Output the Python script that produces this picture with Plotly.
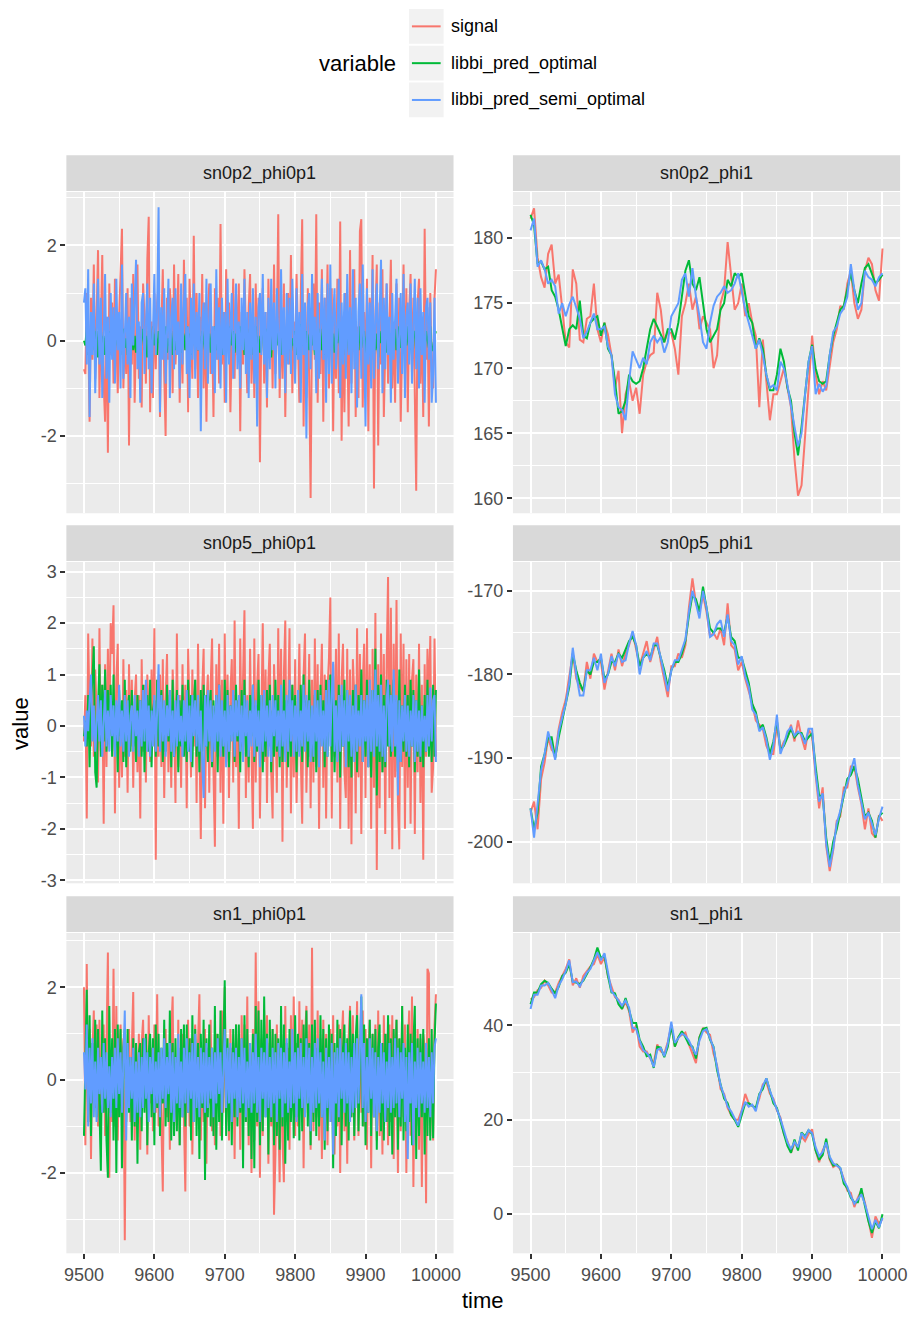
import plotly.graph_objects as go

# ---------------- data ----------------
time_fine = list(range(9500, 10001, 2))     # noisy panels (phi0p1)
time_coarse = list(range(9500, 10001, 5))   # smooth panels (phi1)
series_names = ["signal", "libbi_pred_optimal", "libbi_pred_semi_optimal"]
series_colors = ["#F8766D", "#00BA38", "#619CFF"]
panel_titles = ["sn0p2_phi0p1", "sn0p2_phi1", "sn0p5_phi0p1",
                "sn0p5_phi1", "sn1_phi0p1", "sn1_phi1"]

x_ticks = [9500, 9600, 9700, 9800, 9900, 10000]
x_tick_labels = ["9500", "9600", "9700", "9800", "9900", "10000"]

# sn0p2_phi0p1
a_signal = [-0.6, -0.7, 1.0, 0.3, -1.7, 0.9, -0.4, 1.6, -0.8, 0.4,
            1.9, -1.2, 0.6, 1.8, -0.9, -1.7, 0.5, -2.35, 1.2, -0.3,
            0.8, -0.9, 1.3, 0.1, -1.1, 0.5, 1.5, 2.35, -1.0, 0.2,
            -0.7, 1.1, -2.2, 0.9, -0.5, 1.4, -1.3, 0.6, 1.6, -0.8,
            0.3, -1.4, 1.2, 0.5, -0.9, 1.7, 2.6, -1.5, 0.4, -1.2,
            1.0, -0.6, 0.8, 1.2, -1.6, 0.3, 1.5, -0.7, -2.0, 0.9,
            -0.4, 1.1, 0.6, -1.1, 1.6, -0.5, 0.2, 1.4, -1.3, 0.7,
            -0.9, 1.7, -0.2, 0.9, -1.5, 1.3, 0.4, -0.8, 2.2, -0.6,
            1.0, -1.2, 0.5, -0.3, 1.4, -1.0, 0.8, -1.7, 0.6, 1.2,
            -0.7, 0.3, -1.6, 1.1, -0.4, 0.9, -0.9, 2.45, -0.5, 0.6,
            -1.3, 1.5, -0.2, 0.8, -1.5, 0.4, 1.3, -0.8, 1.0, -0.3,
            1.2, -1.9, 0.6, -0.5, 1.5, 0.2, -1.1, 0.7, 1.4, -0.9,
            0.5, -1.2, 1.2, -0.6, 0.9, -2.55, 0.4, 1.1, -0.9, 0.6,
            -1.4, 1.3, -0.3, 0.8, -1.0, 1.6, -0.7, 0.2, 2.65, -1.2,
            0.6, -0.8, 1.2, -1.6, 0.3, 1.0, -0.5, 1.8, -1.1, 0.4,
            -0.6, 1.4, 0.2, -1.3, 0.9, 2.55, -1.8, 0.7, -1.2, 1.1,
            -0.9, -3.3, 0.5, 1.2, -0.4, 2.65, -1.3, 0.8, -0.7, 1.5,
            -1.7, 0.9, -0.3, 1.6, -1.0, 0.4, 1.1, -1.9, 0.6, -0.8,
            1.3, -1.1, 2.5, -2.1, 0.5, -1.5, 1.0, 0.2, -1.8, 1.9,
            -0.9, 0.7, 1.5, -1.6, 0.3, -1.2, 2.3, 2.55, -1.4, 0.6,
            -0.7, 1.3, -1.9, 0.9, -0.4, 1.8, -3.1, 0.5, 1.6, -2.2,
            0.8, -0.5, 1.5, -1.6, 0.2, 1.2, -0.9, 0.7, 1.7, -1.0,
            0.4, -1.3, 1.2, -0.6, 0.9, -1.7, 0.3, 1.6, -0.8, 1.1,
            -1.5, 0.6, 1.4, -0.7, 0.9, -1.2, -3.15, 0.8, 1.3, -0.9,
            0.5, -1.6, 2.35, -0.4, 0.7, -1.8, 1.0, -0.6, -1.0, 0.9,
            1.5]
a_optimal = [0.0, -0.1, 0.3, -0.3, 0.2, 0.1, -0.2, 0.35, -0.1, 0.2,
             -0.35, 0.1, 0.25, -0.2, 0.1, -0.3, 0.3, -0.1, 0.2, -0.25,
             0.15, 0.0, -0.2, 0.3, -0.1, 0.2, -0.3, 0.1, 0.25, -0.15,
             0.05, -0.3, 0.2, -0.1, 0.3, -0.2, 0.1, -0.25, 0.15, 0.2,
             -0.3, 0.05, 0.25, -0.2, 0.1, -0.35, 0.2, 0.0, -0.15, 0.3,
             -0.1, 0.15, -0.3, 0.2, -0.05, 0.25, -0.2, 0.1, 0.3, -0.25,
             0.05, -0.1, 0.2, -0.3, 0.15, -0.2, 0.35, -0.1, 0.05, -0.25,
             0.2, 0.1, -0.2, 0.3, -0.1, 0.15, -0.3, 0.2, 0.05, -0.15,
             0.25, -0.2, 0.1, -0.3, 0.2, 0.0, -0.2, 0.3, -0.1, 0.15,
             -0.25, 0.2, -0.05, 0.3, -0.2, 0.1, -0.15, 0.25, -0.3, 0.05,
             0.2, -0.2, 0.1, -0.3, 0.3, -0.1, 0.2, -0.25, 0.15, 0.0,
             -0.2, 0.3, -0.1, 0.2, -0.3, 0.1, 0.25, -0.15, 0.05, -0.3,
             0.2, -0.1, 0.3, -0.2, 0.1, -0.25, 0.15, 0.2, -0.3, 0.05,
             0.25, -0.2, 0.1, -0.35, 0.2, 0.0, -0.15, 0.3, -0.1, 0.15,
             -0.3, 0.2, -0.05, 0.25, -0.2, 0.1, 0.3, -0.25, 0.05, -0.1,
             0.2, -0.3, 0.15, -0.2, 0.35, -0.1, 0.05, -0.25, 0.2, 0.1,
             -0.2, 0.3, -0.1, 0.15, -0.3, 0.2, 0.05, -0.15, 0.25, -0.2,
             0.1, -0.3, 0.2, 0.0, -0.2, 0.3, -0.1, 0.15, -0.25, 0.2,
             -0.05, 0.3, -0.2, 0.1, -0.15, 0.25, -0.3, 0.05, 0.2, -0.2,
             0.15, -0.1, 0.25, -0.3, 0.1, -0.2, 0.3, -0.15, 0.05, 0.2,
             -0.25, 0.1, -0.3, 0.2, 0.0, -0.1, 0.25, -0.2, 0.15, -0.35,
             0.2, -0.05, 0.3, -0.2, 0.1, -0.25, 0.15, 0.05, -0.3, 0.2,
             -0.1, 0.25, -0.2, 0.1, 0.3, -0.15, 0.05, -0.25, 0.2, -0.1,
             0.3, -0.2, 0.1, -0.3, 0.15, 0.2, -0.25, 0.05, -0.1, 0.25,
             -0.2, 0.1, -0.3, 0.2, 0.05, -0.15, 0.3, -0.2, -0.2, 0.1,
             0.2]
a_semi = [0.8, 1.1, -0.5, 1.5, -1.6, 0.6, -0.3, 1.2, -1.1, 0.4,
          1.3, -0.5, 0.9, -1.2, 0.2, 1.4, -0.8, 0.5, -1.3, 1.0,
          -0.4, 0.7, -0.9, 1.3, -0.2, 0.6, -1.0, 1.6, -0.8, 0.3,
          1.0, -0.5, 0.5, -1.2, 1.2, -0.1, 0.9, 1.7, -0.6, 0.4,
          -1.3, 0.8, 1.0, -0.7, 0.3, 1.2, -0.6, 0.9, -1.1, 0.5,
          1.4, -0.3, 0.6, 2.8, -1.5, 0.7, -0.4, 1.1, -0.9, 0.2,
          1.3, -1.2, 0.5, 0.9, -0.6, 1.1, -0.3, 0.4, -1.0, 1.2,
          -0.5, 0.8, 1.4, -0.7, 0.3, -1.2, 0.9, -0.4, 1.2, -0.8,
          0.6, -0.2, 1.0, -1.9, 0.4, 0.8, -0.6, 1.3, -0.9, 0.5,
          1.2, -0.7, 0.3, -1.1, 1.5, -0.4, 0.7, -1.0, 0.9, -0.3,
          0.6, -1.3, 1.3, -0.5, 0.2, 1.0, -0.8, 0.5, 1.2, -0.6,
          0.4, -1.0, 0.9, -0.2, 1.3, -0.7, 0.6, -1.2, 0.8, -0.4,
          1.1, -0.9, 0.5, -1.8, 0.7, 1.0, -0.3, 1.4, -0.5, 0.6,
          -1.2, 0.9, -0.6, 1.3, -0.2, 0.8, -1.0, 1.1, 0.3, -0.8,
          1.5, -0.3, 0.7, -1.1, 1.0, -0.5, 0.9, -0.7, 1.3, 0.2,
          -0.9, 1.1, -0.4, 0.6, -1.3, 1.4, -0.3, 0.8, -2.05, 0.7,
          1.0, -0.6, 1.4, -0.2, 0.5, -1.1, 1.0, -0.8, 0.6, 1.3,
          -0.4, 0.9, -1.3, 1.2, -0.7, 1.6, -0.9, 0.5, 1.1, -0.6,
          0.3, 1.3, -1.2, 0.8, -0.5, 1.0, -0.8, 1.4, -0.3, 0.7,
          -1.1, 1.5, -0.6, 0.9, -1.4, 0.6, 1.2, -0.8, 1.6, -0.4,
          -1.8, 1.1, -0.5, 0.8, -1.0, 1.5, -0.8, 0.4, 1.2, -0.6,
          0.7, 1.7, -1.1, 0.9, -0.6, 1.2, -0.3, 0.5, -1.3, 1.0,
          -0.4, 0.6, 1.3, -0.9, 0.2, 1.0, -0.7, 1.4, -1.2, 0.5,
          0.8, -0.5, 1.2, -0.9, 0.3, 1.3, -0.6, 0.9, -1.0, 1.1,
          -0.3, 0.6, -1.3, 0.7, 0.9, -0.4, 0.8, -1.3, -0.7, 0.9,
          -1.3]

# sn0p2_phi1
b_signal = [181.5, 182.3, 178.5, 177.0, 176.2, 178.8, 179.5, 176.5, 177.2, 174.5,
            172.0, 171.6, 177.6, 176.5, 172.2, 172.0, 173.8, 174.0, 176.5, 173.0,
            172.0, 173.5, 172.6, 171.0, 168.5, 169.8, 165.0, 168.0, 169.0, 167.5,
            168.5, 166.5, 169.5, 170.5, 171.0, 171.2, 175.8, 174.5, 172.0, 172.8,
            172.7, 171.5, 169.5, 174.0, 175.0, 176.5, 174.5, 175.5, 173.0, 174.0,
            173.5, 173.0, 170.0, 171.0, 175.0, 176.0, 179.7, 177.0, 174.5, 175.0,
            176.5, 174.0, 175.0, 173.5, 172.5, 167.0, 172.2, 169.0, 166.0, 168.0,
            168.0, 169.0, 170.0, 168.5, 167.0, 163.0, 160.2, 161.0, 164.5, 168.5,
            172.5, 169.5, 168.0, 169.0, 168.3, 170.0, 172.0, 173.0, 174.8, 174.5,
            176.5, 177.5, 175.0, 173.8, 174.5, 177.5, 178.5, 178.0, 176.0, 175.2,
            179.2]
b_optimal = [181.8, 181.0, 178.0, 178.2, 177.6, 177.8, 176.0, 175.5, 174.5, 173.0,
             171.7, 173.0, 173.3, 173.0, 175.2, 172.5, 172.3, 173.5, 173.8, 174.0,
             172.5, 173.5, 171.5, 171.0, 169.0, 166.5, 166.7, 167.5, 169.5, 169.0,
             168.8, 169.0, 170.0, 171.5, 173.0, 173.8, 173.2, 172.7, 172.0, 173.0,
             173.0, 172.2, 173.5, 175.5, 177.5, 178.3, 176.5, 176.0, 177.0, 175.0,
             173.0, 172.0, 172.5, 173.0, 174.5, 175.0, 176.8, 176.3, 177.3, 177.0,
             177.3, 175.5, 174.0, 173.5, 171.5, 172.3, 171.5, 169.5, 168.3, 168.3,
             169.5, 171.5, 170.5, 168.5, 167.5, 165.0, 163.3, 165.5, 168.0, 170.5,
             171.8, 170.0, 169.0, 168.8, 169.0, 171.0, 172.5, 173.5, 174.5, 174.8,
             176.0, 177.3, 176.0, 175.0, 176.5, 177.7, 178.0, 177.3, 176.5, 176.8,
             177.2]
b_semi = [180.6, 181.5, 177.8, 178.3, 177.6, 176.5, 176.8, 176.3, 174.2, 175.0,
          174.0, 174.9, 175.5, 174.7, 173.8, 172.3, 172.8, 173.5, 174.2, 173.0,
          173.0, 173.2, 171.7, 171.0, 168.0, 167.0, 166.8, 166.0, 169.0, 171.3,
          170.6, 170.0, 170.8, 170.3, 172.0, 172.5, 172.0, 172.4, 171.2, 172.0,
          174.0, 174.5, 175.0, 176.8, 177.3, 175.5, 177.7, 175.5, 174.0, 172.0,
          171.5, 173.5, 174.8, 175.5, 175.8, 176.3, 175.8, 176.0, 176.5, 177.3,
          176.0, 174.5, 173.5, 172.5, 171.5, 172.2, 171.0, 169.5, 168.5, 168.7,
          168.3, 170.5, 170.0, 168.7, 167.0, 165.5, 164.0, 165.0, 168.0, 170.5,
          171.7, 168.0, 168.8, 168.2, 168.6, 171.0, 172.8, 173.2, 174.2, 174.6,
          175.5, 178.0, 176.0, 174.5, 175.0, 177.5, 177.0, 176.8, 176.3, 177.0,
          177.3]

# sn0p5_phi0p1
c_signal = [-0.3, 0.6, -1.8, 1.8, 0.2, -0.4, 1.7, -0.6, 1.1, 0.3,
            -1.1, 1.9, -0.5, 0.8, -1.9, 1.2, -0.8, 1.5, -0.2, 2.0,
            1.4, 2.35, -1.7, 0.9, 1.6, -1.2, 0.4, -1.0, 1.3, -0.6,
            0.7, -1.3, 1.2, -0.4, 0.9, -1.2, 0.5, 1.0, -0.9, 0.6,
            -1.8, 1.3, -0.5, 0.8, -1.1, 1.0, 0.2, -0.7, 1.1, -0.3,
            1.9, -2.6, 0.9, -0.6, 1.0, -0.8, 1.3, -1.4, 0.5, 1.4,
            -0.9, 0.7, -1.2, 1.1, 0.3, -1.5, 1.8, -0.8, 0.6, -1.2,
            1.2, -0.5, 0.8, -1.6, 1.5, 0.2, -1.0, 1.1, -0.4, 0.9,
            -1.5, 1.6, -0.7, -2.2, 0.7, 1.5, -1.6, 0.4, 1.0, -1.3,
            0.8, 1.7, -0.9, -2.35, 1.2, -0.6, 1.6, -1.3, 0.9, -1.9,
            1.8, -0.7, 1.0, -1.4, 0.6, 1.3, -1.1, 2.05, -0.8, 0.5,
            -2.0, 1.7, -0.4, 0.9, 2.25, -1.4, 0.6, -1.1, 1.5, -0.5,
            -2.0, 1.7, -1.1, 0.8, 1.4, -1.8, 0.5, 2.0, -0.7, 1.1,
            -1.5, 0.9, 1.6, -0.9, -1.8, 1.2, 0.4, -1.3, 1.9, -0.6,
            1.5, -2.25, 1.0, 2.05, -1.2, 0.7, 1.9, -1.7, 0.8, -1.0,
            1.3, -1.5, 0.6, 1.6, -0.6, -1.9, 1.0, 1.8, -1.3, 0.4,
            1.4, -1.6, 0.9, -1.1, 1.7, -0.8, 1.2, -2.0, 0.5, 1.6,
            -1.2, 1.0, -1.8, 0.7, 1.3, 2.5, -1.8, 1.2, -0.6, 1.5,
            -1.1, 1.8, -2.0, 0.9, 1.6, -0.9, -1.4, 1.5, -2.0, 1.1,
            -2.3, 1.3, 0.6, -1.7, 1.9, -1.0, 1.4, -2.1, 0.8, 1.6,
            -1.4, 1.9, -0.8, 1.2, -2.0, 1.5, -1.2, 2.2, -2.8, 1.2,
            -1.6, 1.8, -0.9, 1.4, -2.1, 1.2, 2.9, -1.4, 2.3, -2.4,
            1.6, -1.0, 2.45, -1.5, -2.4, 1.8, -0.8, 1.6, -2.0, 1.3,
            -1.2, 1.4, -1.9, 0.9, 1.3, -2.1, 1.0, -0.9, 1.6, -1.5,
            0.8, -2.6, 1.2, -0.6, 1.5, 0.4, 1.75, -1.3, -0.8, 1.7,
            -0.6]
c_optimal = [-0.2, 0.1, -0.4, 0.6, -0.8, 0.5, 0.9, 1.55, -0.9, -1.2,
             0.3, 1.2, -0.6, 0.8, -0.3, 1.1, -0.5, 0.7, -0.2, 0.8,
             -0.6, 1.0, -0.5, 0.4, -0.9, 0.7, -0.2, 0.5, -0.7, 0.9,
             -0.8, 0.3, 0.6, -0.5, 0.7, -0.4, 0.2, -0.7, 0.6, -0.3,
             0.5, -0.6, 0.8, -0.9, 0.4, 0.6, -0.5, 0.9, -0.8, 0.3,
             0.5, -0.6, 0.9, -0.4, 0.2, 0.7, -0.7, 0.4, -0.5, 0.8,
             -0.3, 0.6, -0.8, 0.9, -0.6, -0.2, 0.7, -0.9, 0.5, -0.4,
             0.8, -0.6, 0.3, -0.7, 0.9, -0.5, 0.6, -0.8, 0.4, 0.9,
             -0.6, 0.5, -0.9, 0.7, -0.5, 0.8, -0.4, 0.6, -0.7, 0.3,
             0.7, -0.8, 0.5, -0.3, 0.6, -0.9, 0.8, -0.4, 0.2, -0.6,
             0.9, -0.5, 0.7, -0.8, 0.4, -0.2, 0.6, -0.7, 0.8, -0.3,
             0.5, -0.9, 0.7, -0.4, 0.9, -0.6, 0.3, -0.8, 0.6, -0.2,
             0.8, -0.7, 0.4, -0.5, 0.9, -0.3, 0.6, -0.9, 0.5, -0.6,
             0.7, -0.4, 0.8, -0.9, 0.3, -0.6, 0.9, -0.5, 0.6, -0.8,
             0.4, -0.7, 0.9, -0.3, 0.5, -0.8, 0.7, -0.6, 0.8, -0.2,
             0.6, -0.9, 0.4, -0.5, 0.8, -0.7, 1.0, -0.4, 0.5, -0.8,
             0.9, -0.6, 0.3, -0.7, 0.6, -0.9, 0.7, -0.5, 0.8, -0.3,
             0.5, -0.8, 0.9, -0.6, 0.4, 1.0, -0.7, 0.6, -0.9, 0.5,
             -0.5, 0.8, -1.0, 0.6, -0.4, 0.9, -0.6, 0.7, -0.8, 0.4,
             -1.0, 0.7, -0.5, 0.8, -0.9, 0.6, -0.3, 1.1, -0.7, 0.5,
             -0.6, 0.9, -0.8, 0.4, -1.0, 0.7, -0.5, 1.5, -1.35, 0.8,
             -0.7, 1.0, -0.9, 0.6, -0.8, 0.9, -0.4, 0.8, -0.6, 0.5,
             0.9, -0.6, 0.5, -0.9, 1.1, -0.7, 0.4, -0.5, 0.8, -0.6,
             0.6, -0.8, 0.9, -0.4, 0.7, -0.9, 0.5, -0.6, 1.1, -0.7,
             0.4, -0.8, 0.6, -0.5, 0.9, -0.6, 0.3, -0.7, 0.8, -0.6,
             0.7]
c_semi = [0.2, -0.4, 0.3, -0.1, 0.5, 1.0, -0.3, 0.4, -0.5, 0.2,
          0.6, -0.3, 0.5, -0.6, 0.2, 0.7, -0.4, 0.3, -0.5, 0.6,
          -0.2, 0.4, -0.6, 0.5, -0.3, 0.8, -0.4, 0.3, -0.5, 0.6,
          -0.3, 0.5, -0.6, 0.2, 0.4, -0.5, 0.6, -0.2, 0.3, -0.6,
          0.5, -0.4, 0.7, -0.3, 0.9, -0.5, 0.4, -0.6, 0.3, -0.4,
          0.6, -0.5, 0.3, 1.2, -0.5, 0.6, -0.3, 0.5, -0.6, 0.4,
          -0.2, 0.7, -0.5, 0.3, -0.6, 0.5, -0.4, 0.6, -0.3, 0.2,
          -0.6, 0.5, -0.3, 0.7, -0.5, 0.4, -0.7, 0.6, -0.2, 0.5,
          -0.4, 0.6, -0.5, 0.3, -0.7, -1.4, 0.6, -0.4, 0.7, -0.3,
          0.5, -0.7, 0.4, -0.5, 0.6, -0.3, 0.8, -0.6, 0.5, -0.4,
          0.3, -0.8, 0.6, -0.5, 0.4, -0.3, 0.7, -0.6, 0.5, -0.2,
          0.6, -0.5, 0.4, -0.7, 0.6, -0.2, 0.5, -0.6, 0.3, -0.4,
          0.8, -0.6, 0.5, -0.4, 0.3, -0.8, 0.6, -0.5, 0.7, -0.3,
          0.4, -0.6, 0.5, -0.7, 0.6, -0.2, 0.5, -0.4, 0.3, -0.6,
          0.8, -0.4, 0.3, -0.7, 0.6, -0.5, 0.9, -0.3, 0.5, -0.6,
          0.4, -0.5, 0.7, -0.6, 0.3, -0.4, 0.8, -0.5, 0.6, -0.3,
          0.5, -0.7, 0.4, -0.6, 0.7, -0.3, 0.5, -0.8, 0.6, -0.4,
          0.3, -0.5, 0.7, -0.6, 0.9, -0.4, 0.6, 1.25, -0.5, 0.4,
          -0.7, 0.6, -0.5, 0.8, -0.4, 0.5, -0.8, 0.7, -0.3, 0.6,
          -0.6, 0.4, -0.7, 0.8, -0.5, 0.3, -0.4, 0.6, -0.7, 0.5,
          -0.3, 0.6, -0.8, 0.9, -0.5, 0.7, -0.6, 1.1, -0.4, 0.6,
          -0.5, 0.8, -0.6, 0.4, -0.7, 0.5, 0.9, -0.4, 0.6, -0.5,
          1.1, -0.4, 0.6, -1.35, 0.5, -0.7, 0.4, -0.3, 0.6, -0.5,
          0.4, -0.6, 0.3, -0.4, 0.6, -0.7, 0.5, -0.5, 0.3, -0.6,
          0.4, -0.3, 0.2, -0.5, 0.6, -0.4, 0.75, -0.3, 0.5, 0.6,
          -0.7]

# sn0p5_phi1
d_signal = [-196.5, -195.2, -198.5, -192.5, -190.5, -187.5, -189, -189.5, -186.5, -184.5,
            -183, -180.5, -177.5, -180.5, -181.5, -182, -178.5, -180.5, -177.5, -178.5,
            -178.5, -181.8, -179.5, -177.5, -179.5, -177, -179, -177.5, -176.5, -175,
            -177, -179, -177.5, -176, -178.5, -177, -175.5, -178.5, -180.5, -182.7,
            -179, -179, -177.5, -178, -176.5, -172, -168.5, -171.5, -172.5, -170.5,
            -172.5, -175.5, -175, -175.8, -174.5, -176.5, -171.5, -176.5, -177, -179.5,
            -178.5, -180.5, -182, -183.5, -185.5, -186, -186.5, -188.5, -189.5, -189.5,
            -186, -189, -188, -187.5, -186, -188, -185.5, -187.5, -189, -186.5,
            -187.5, -192, -196, -193.5, -200.5, -203.5, -201, -197.5, -197, -193.5,
            -193.5, -191, -191, -193.5, -195.5, -198.5, -196, -199, -199.5, -196.8,
            -197.5]
d_optimal = [-196, -198.5, -196.5, -191, -189.5, -187.5, -187.5, -190, -187.5, -185.5,
             -183.5, -181.5, -177.5, -179.5, -181, -182, -179.5, -180, -178.5, -178.5,
             -178, -180.5, -180, -178.5, -178.5, -177.5, -178, -177, -176, -175.5,
             -176.5, -179, -178, -177.5, -178, -176.5, -176.5, -178, -179.5, -181.5,
             -179.5, -178.5, -178.5, -177.5, -176, -173, -170.5, -171, -172.5, -169.5,
             -172, -174.5, -175, -174.5, -174.5, -175, -173, -175.5, -176, -178,
             -178, -179.5, -181, -183.5, -184.5, -186.5, -186, -187.5, -189.5, -188,
             -185.5, -189, -188.5, -187.5, -186.5, -187.5, -187, -187, -188, -187.5,
             -187, -191, -194.5, -194.5, -199.5, -202.5, -200, -198.5, -196.5, -194.5,
             -192.5, -192, -191, -192.5, -195, -197, -196.5, -197.5, -199.5, -197,
             -196.5]
d_semi = [-196, -199.5, -195.5, -191.5, -189.5, -186.8, -188.5, -190.2, -186.8, -185,
          -183.5, -181, -176.8, -180, -182.5, -182.5, -179.5, -179.5, -178, -179.5,
          -177.5, -181, -180, -177.8, -179, -177.5, -178.5, -178.3, -176.3, -174.8,
          -176.5, -180, -178, -177.2, -178.3, -176.3, -176.3, -178, -180, -182,
          -179.5, -178.3, -178.3, -177, -175.8, -172.5, -170, -171.5, -173.3, -170,
          -172, -175.5, -175.2, -174, -173.5, -175.5, -172.8, -176, -176.5, -178.8,
          -177.8, -180.2, -181.5, -184.2, -184.8, -186.8, -186.3, -187.8, -190.2, -188.5,
          -184.8, -189.5, -188.3, -186.8, -186.3, -187.3, -186.8, -187.2, -188.3, -186.5,
          -186.5, -191.8, -195.2, -194.2, -200.2, -203, -200.8, -197.8, -196.3, -194.2,
          -193, -191.5, -190, -193.2, -195.2, -197.3, -196.5, -198, -199.2, -197.2,
          -195.8]

# sn1_phi0p1
e_signal = [2.0, -1.4, 2.5, -0.9, 1.1, -1.7, 0.6, 1.5, -0.6, 1.2,
            -1.0, 1.3, -0.8, 0.4, 1.2, -1.2, 0.8, 2.75, -2.1, 0.5,
            -0.9, 2.4, -1.0, 1.6, -1.3, 0.5, 1.2, -0.6, 0.9, -3.45,
            0.5, -0.4, 1.1, -0.9, 0.7, 1.9, -1.3, 0.6, -0.8, 1.0,
            -1.5, 0.8, 1.3, -0.6, 0.9, -1.6, 1.4, -0.5, 0.7, -1.1,
            1.2, -0.7, 1.85, -1.0, 0.5, -1.2, -2.4, 0.9, 1.1, -0.8,
            0.6, -1.5, 1.0, 1.8, -1.1, 0.4, -0.9, 1.3, -1.4, 0.7,
            1.0, -0.8, -2.4, 0.6, 1.3, -1.0, 0.9, -1.6, 0.5, 1.2,
            -0.6, 0.8, 1.85, -1.3, 0.4, -0.9, 1.1, -1.8, 0.7, -0.5,
            1.3, -1.1, 0.6, -1.4, 1.0, -0.3, 0.9, -1.2, 1.5, -0.7,
            2.0, -0.9, 0.6, -1.3, 1.1, -0.5, 0.8, -1.7, 1.2, -0.4,
            0.9, -1.5, 1.4, -0.6, 1.2, -0.9, 1.8, -1.4, 0.7, -2.0,
            1.1, -1.3, 2.75, -1.0, 1.7, -2.1, 0.9, -1.2, 1.5, -0.6,
            1.4, -1.8, 0.8, -1.0, 1.1, -2.9, -1.6, 1.2, -0.8, -2.2,
            1.0, -1.3, -2.2, 1.6, -0.9, 0.7, -1.5, 1.4, -0.6, 1.8,
            -1.2, 0.8, -1.0, 1.7, -0.5, 1.3, -1.9, 0.9, 1.6, -0.7,
            1.2, -1.5, 2.85, -1.1, 0.6, -0.8, 1.5, -1.3, 0.9, -1.7,
            1.3, -0.6, 1.0, -1.4, 0.7, 1.1, -0.9, 1.4, -1.6, 0.5,
            -1.0, 1.2, -2.0, 0.8, 1.5, -1.1, 0.6, -1.8, 0.9, 1.6,
            -0.8, 1.4, -1.3, 0.7, 1.7, -1.2, 0.9, -0.7, 1.5, -1.0,
            1.1, -1.5, 0.6, 1.3, -1.9, 1.0, -0.8, 1.2, -1.3, 1.5,
            -1.2, 0.8, -1.6, 1.4, -0.6, 1.0, -1.4, 1.2, -0.9, 1.4,
            -1.7, 0.7, 1.3, -2.0, 0.9, -1.1, 1.6, -0.8, 1.2, -2.0,
            0.6, 1.5, -1.2, 1.8, -2.3, 0.7, -1.0, 1.1, -1.5, 0.9,
            -2.3, 1.0, 0.7, -2.65, 2.4, 2.3, -1.2, 0.6, -1.3, 1.2,
            1.85]
e_optimal = [-1.2, 0.6, 1.95, -0.9, 1.4, -1.2, 0.8, -0.5, 1.3, -0.8,
             1.1, -0.6, -1.95, 1.5, -0.7, 0.9, -1.3, -2.1, 1.6, -0.7,
             0.9, -1.3, 1.1, -2.0, 1.2, -0.8, 1.1, -1.9, 0.7, 1.1,
             -0.9, 1.1, -0.7, 0.5, -1.3, 0.9, -1.0, 0.8, -1.8, 0.6,
             0.8, -1.1, 0.9, -0.7, 1.0, -1.4, 0.6, 1.0, -0.8, 0.9,
             -1.4, 1.2, -0.6, 1.0, -1.2, 0.7, -0.5, 1.3, -1.0, 0.8,
             -0.9, 1.5, -1.3, 0.8, -1.2, 0.9, -1.1, 0.7, -1.4, 1.1,
             -0.8, 1.2, -1.0, 1.2, -0.7, 0.9, -1.3, 1.4, -0.9, 1.1,
             -1.2, 0.8, -1.7, 1.0, -0.6, 1.3, -2.15, 0.9, -0.8, 1.2,
             -1.0, 0.7, -1.2, 1.6, -1.5, 1.0, -0.9, 1.5, -1.3, 0.8,
             2.15, -1.2, 0.9, -1.1, 0.7, -1.4, 1.1, -0.8, 1.2, -1.0,
             1.2, -0.7, 0.9, -1.9, 1.4, -0.9, 1.1, -1.2, 0.8, -1.7,
             1.0, -1.9, 1.6, -0.9, 1.5, -1.4, 1.3, -1.1, 1.8, -0.8,
             1.0, -1.6, 1.3, -0.9, 1.1, -1.4, 1.0, -1.2, 0.9, -1.5,
             1.6, -1.0, 1.2, -1.8, 0.8, -1.3, 1.1, -0.9, 0.6, -1.25,
             1.4, -0.8, 1.0, -1.3, 0.9, -1.1, 1.2, -0.7, 1.5, -1.0,
             0.8, -1.4, 1.2, -0.9, 1.3, -1.2, 0.7, -1.0, 1.4, -0.8,
             1.1, -1.5, 0.9, -1.1, 1.2, -0.6, 1.0, -1.9, 0.8, -1.2,
             1.3, -0.9, 1.1, -1.4, 0.7, 1.2, -1.0, 0.9, -1.3, 1.5,
             -0.8, 1.0, -1.2, 0.9, 1.4, -1.1, 0.8, 1.8, -1.0, 1.2,
             -1.4, 0.9, -0.7, 1.3, -1.2, 1.0, -0.8, 1.1, -1.5, 0.7,
             1.2, -1.1, 0.8, -1.3, 1.0, -0.9, 1.4, -1.2, 0.9, -1.6,
             1.1, -0.8, 1.3, -1.5, 0.9, -1.0, 1.6, -1.3, 0.7, -1.1,
             1.2, -0.9, 1.0, -1.4, 0.8, 1.6, -1.7, 0.9, -1.2, 1.0,
             -0.8, 1.1, -1.6, 0.7, -1.2, 0.9, -1.3, 1.1, -1.25, 0.8,
             1.65]
e_semi = [0.6, -0.2, 1.2, -1.0, 0.7, -0.5, 0.9, -0.8, 0.4, -0.9,
          0.7, -0.3, 0.5, -0.7, 0.8, -0.4, 0.6, -0.6, 0.3, -0.8,
          0.5, -0.4, 0.7, -0.6, 0.9, -0.3, 0.6, -0.7, 0.4, 1.5,
          -1.3, 0.8, -0.6, 0.5, -0.4, 0.7, -0.9, 0.4, -0.7, 0.6,
          -0.8, 0.5, -0.6, 0.9, -0.4, 0.6, -0.9, 0.5, -0.3, 0.7,
          -0.7, 0.4, -0.5, 0.6, -0.8, 0.7, -0.4, 0.9, -0.6, 0.5,
          -0.3, 0.8, -0.7, 0.6, -0.9, 0.5, -0.5, 1.0, -0.6, 0.4,
          -0.8, 0.7, -0.5, 0.9, -0.7, 0.6, -0.4, 0.8, -0.9, 1.0,
          -0.6, 0.5, -0.8, 0.7, -0.5, 0.6, -0.7, 0.8, -0.6, 0.5,
          -0.4, 0.7, -0.8, 0.6, -0.5, 0.9, -0.3, 0.6, -0.7, 0.5,
          1.1, -0.6, 0.7, -0.5, 0.8, -0.9, 0.6, -0.4, 0.7, -0.8,
          0.5, -0.6, 0.9, -0.5, 0.7, -0.8, 0.4, -0.6, 0.8, -0.7,
          0.6, -0.5, 1.0, -0.7, 0.5, -0.9, 0.7, -0.4, 0.6, -0.8,
          0.9, -0.6, 0.5, -0.8, 0.7, -0.5, 0.6, -0.9, 0.8, -0.4,
          0.7, -0.8, 0.6, -0.5, 0.9, -0.7, 0.4, -0.6, 1.1, -0.5,
          0.6, -0.9, 0.7, -0.4, 0.8, -0.6, 0.5, -0.8, 0.9, -0.5,
          0.7, -1.1, 0.5, -0.7, 0.8, -0.6, 0.9, -0.5, 0.6, -0.8,
          0.4, -1.3, 0.7, -0.6, 0.5, -0.9, 0.8, -1.6, 0.6, -0.5,
          0.7, -0.8, 0.9, -0.4, 0.6, -0.7, 0.8, -0.5, 0.6, -0.9,
          0.5, -0.7, 0.8, -0.6, 0.9, -0.5, 0.7, 1.85, -0.6, 0.8,
          -0.9, 0.5, -0.7, 0.9, -0.4, 0.7, -0.8, 0.6, -1.1, 0.5,
          -0.7, 0.8, -0.5, 0.6, -0.9, 0.4, -0.6, 0.8, -0.7, 0.5,
          -0.6, 0.9, -0.5, 0.7, -0.8, 0.6, -0.4, 0.8, -0.9, 0.5,
          -1.7, 0.6, -0.5, 0.8, -1.4, 0.4, -0.6, 0.7, -0.8, 0.6,
          -0.5, 0.4, -0.7, 0.8, -0.6, 0.5, -0.8, 0.6, -0.5, 0.7,
          0.9]

# sn1_phi1
f_signal = [45.5, 46, 47.5, 48, 49.5, 48.5, 47, 47, 49, 50.5,
            52, 54, 48.5, 50, 48, 50.5, 51.5, 52.5, 53, 55,
            53, 54.5, 50.5, 48, 46, 45.5, 43.5, 45, 43, 38.5,
            40, 35.5, 34.5, 34.5, 33, 32, 36, 34.5, 34, 36.5,
            40, 35.5, 37.5, 38, 38.5, 36, 34, 32, 37.5, 39.5,
            38.5, 38, 34, 31.5, 26.5, 25.5, 22.5, 21, 20, 20,
            22, 25.5, 23.5, 23, 22.5, 24.5, 27.5, 28, 25.5, 24.5,
            22, 20.5, 17, 15.5, 13, 15, 14.5, 16.5, 15.5, 17,
            18, 13.5, 11, 13.5, 15, 11.5, 10, 10.5, 9.5, 7.5,
            5, 4.5, 1.5, 3.5, 5, 2.5, -1.5, -5, -0.5, -2,
            -1]
f_optimal = [44.5, 47, 47, 48.8, 49.5, 49, 47.8, 46.8, 48.2, 50.5,
             51.2, 53, 49.3, 49, 48.8, 49.5, 50.8, 52.3, 54, 56.5,
             54.3, 54.8, 50.5, 47, 46.8, 44.5, 43.5, 45.8, 43.3, 40.5,
             40.5, 37, 35.5, 33.5, 33.8, 31, 35.5, 35.3, 33.3, 35.5,
             40, 35.5, 37.5, 38.8, 37.5, 36, 35.5, 33, 37.5, 39.3,
             39.5, 37, 35.5, 30.5, 27.5, 24.5, 23.5, 21, 20, 18.5,
             21, 23.5, 23.5, 23, 22.5, 25.5, 26.5, 28.8, 26.3, 23.5,
             22.5, 19.5, 17, 14.5, 13, 15.8, 13.5, 17.3, 16.5, 17.8,
             17, 13.5, 11.5, 12.5, 16, 11.8, 10.3, 10.5, 9.8, 6.5,
             5.5, 3.5, 2.5, 2.5, 5.5, 1.8, -1.5, -4, -1.5, -3,
             0]
f_semi = [43.5, 46.5, 46.5, 48.5, 48.5, 49, 47.5, 45.8, 48.5, 49.8,
          51.5, 53.8, 49.2, 49.3, 48.3, 49.8, 51.2, 52, 53.8, 55.5,
          53.8, 55.3, 51.3, 47.3, 46.3, 45.2, 44.2, 45.3, 43.8, 39.5,
          39.3, 36.8, 34.8, 34.2, 33.2, 31.2, 34.8, 35.2, 33.5, 36.2,
          40.8, 36.3, 37.2, 38.3, 37.8, 36.8, 35.2, 33.8, 36.8, 38.8,
          39.2, 37.2, 35.3, 31.2, 27.3, 25.2, 22.8, 21.8, 20.3, 18.8,
          21.8, 23.8, 22.8, 23.2, 21.8, 25.2, 27.2, 28.8, 26.2, 24.2,
          22.3, 20.2, 17.8, 15.2, 13.8, 15.3, 14.2, 17.2, 16.2, 17.8,
          17.2, 14.2, 12.3, 13.2, 15.2, 12.2, 10.8, 10.2, 9.8, 7.2,
          5.8, 3.8, 2.2, 3.2, 4.2, 2.2, -0.8, -3.2, -1.2, -2.8,
          -0.8]

panel_data = [
    (time_fine, a_signal, a_optimal, a_semi),
    (time_coarse, b_signal, b_optimal, b_semi),
    (time_fine, c_signal, c_optimal, c_semi),
    (time_coarse, d_signal, d_optimal, d_semi),
    (time_fine, e_signal, e_optimal, e_semi),
    (time_coarse, f_signal, f_optimal, f_semi),
]

y_ticks = [
    [-2, 0, 2],
    [160, 165, 170, 175, 180],
    [-3, -2, -1, 0, 1, 2, 3],
    [-200, -190, -180, -170],
    [-2, 0, 2],
    [0, 20, 40],
]
y_tick_labels = [
    ["-2", "0", "2"],
    ["160", "165", "170", "175", "180"],
    ["-3", "-2", "-1", "0", "1", "2", "3"],
    ["-200", "-190", "-180", "-170"],
    ["-2", "0", "2"],
    ["0", "20", "40"],
]
y_minor = [
    [-3, -1, 1, 3],
    [157.5, 162.5, 167.5, 172.5, 177.5, 182.5],
    [-2.5, -1.5, -0.5, 0.5, 1.5, 2.5],
    [-205, -195, -185, -175, -165],
    [-3, -1, 1, 3],
    [-10, 10, 30, 50],
]
y_ranges = [
    [-3.62, 3.12],
    [158.85, 183.55],
    [-3.06, 3.19],
    [-204.96, -166.55],
    [-3.73, 3.17],
    [-8.3, 59.6],
]
x_minor = [9550, 9650, 9750, 9850, 9950]

# ---------------- layout geometry (pixels) ----------------
W, H = 917, 1318
FONT = "Liberation Sans"


def px(x):
    return x / W


def py(y):
    return 1 - y / H


col_px = [(65, 456), (516, 907)]
row_plot_px = [(193, 516), (565, 888), (938, 1260)]
row_strip_px = [(156, 192), (528, 564), (901, 937)]

fig = go.Figure()
layout = dict(
    width=W, height=H,
    margin=dict(l=0, r=0, t=0, b=0),
    paper_bgcolor="white",
    plot_bgcolor="#EBEBEB",
    showlegend=False,
    font=dict(family=FONT, color="#000000"),
)

shapes = []
annotations = []

for i in range(6):
    r, c = divmod(i, 2)
    n = i + 1
    xname = "x" if n == 1 else f"x{n}"
    yname = "y" if n == 1 else f"y{n}"
    xkey = "xaxis" if n == 1 else f"xaxis{n}"
    ykey = "yaxis" if n == 1 else f"yaxis{n}"
    x0, x1 = col_px[c]
    yt, yb = row_plot_px[r]
    bottom = (r == 2)
    layout[xkey] = dict(
        domain=[px(x0), px(x1)], anchor=yname,
        range=[9475, 10025],
        tickmode="array", tickvals=x_ticks, ticktext=x_tick_labels,
        showticklabels=bottom,
        ticks="outside" if bottom else "",
        ticklen=5, tickwidth=2, tickcolor="#333333",
        tickfont=dict(family=FONT, size=18, color="#4D4D4D"),
        showgrid=True, gridcolor="white", gridwidth=2,
        minor=dict(tickmode="array", tickvals=x_minor, showgrid=True,
                   gridcolor="white", gridwidth=1, ticks=""),
        zeroline=False, showline=False,
    )
    layout[ykey] = dict(
        domain=[py(yb), py(yt)], anchor=xname,
        range=y_ranges[i],
        tickmode="array", tickvals=y_ticks[i], ticktext=y_tick_labels[i],
        ticks="outside", ticklen=5, tickwidth=2, tickcolor="#333333",
        tickfont=dict(family=FONT, size=18, color="#4D4D4D"),
        showgrid=True, gridcolor="white", gridwidth=2,
        minor=dict(tickmode="array", tickvals=y_minor[i], showgrid=True,
                   gridcolor="white", gridwidth=1, ticks=""),
        zeroline=False, showline=False,
    )
    t = panel_data[i][0]
    for s in range(3):
        fig.add_trace(go.Scatter(
            x=t, y=panel_data[i][s + 1], mode="lines",
            name=series_names[s],
            line=dict(color=series_colors[s], width=2),
            xaxis=xname, yaxis=yname, showlegend=False,
        ))
    st, sb = row_strip_px[r]
    shapes.append(dict(type="rect", xref="paper", yref="paper",
                       x0=px(x0), x1=px(x1), y0=py(sb), y1=py(st),
                       fillcolor="#D9D9D9", line=dict(width=0), layer="below"))
    annotations.append(dict(text=panel_titles[i], xref="paper", yref="paper",
                            x=px((x0 + x1) / 2), y=py((st + sb) / 2),
                            xanchor="center", yanchor="middle", showarrow=False,
                            font=dict(family=FONT, size=18, color="#1A1A1A")))

# axis titles
annotations.append(dict(text="value", xref="paper", yref="paper",
                        x=px(18), y=py(727), textangle=-90,
                        xanchor="center", yanchor="middle", showarrow=False,
                        font=dict(family=FONT, size=22, color="#000000")))
annotations.append(dict(text="time", xref="paper", yref="paper",
                        x=px(486), y=py(1307),
                        xanchor="center", yanchor="middle", showarrow=False,
                        font=dict(family=FONT, size=22, color="#000000")))

# legend (drawn manually to mimic ggplot's key boxes)
key_rows = [(9, 44), (46, 81), (83, 118)]
for s, (kt, kb) in enumerate(key_rows):
    shapes.append(dict(type="rect", xref="paper", yref="paper",
                       x0=px(411), x1=px(446), y0=py(kb), y1=py(kt),
                       fillcolor="#F2F2F2", line=dict(width=0)))
    yc = (kt + kb) / 2
    shapes.append(dict(type="line", xref="paper", yref="paper",
                       x0=px(414), x1=px(443), y0=py(yc), y1=py(yc),
                       line=dict(color=series_colors[s], width=2)))
    annotations.append(dict(text=series_names[s], xref="paper", yref="paper",
                            x=px(451), y=py(yc), xanchor="left", yanchor="middle",
                            showarrow=False,
                            font=dict(family=FONT, size=18, color="#000000")))
annotations.append(dict(text="variable", xref="paper", yref="paper",
                        x=px(400), y=py(64), xanchor="right", yanchor="middle",
                        showarrow=False,
                        font=dict(family=FONT, size=22, color="#000000")))

layout["shapes"] = shapes
layout["annotations"] = annotations
fig.update_layout(**layout)

fig.write_html("out.html")
